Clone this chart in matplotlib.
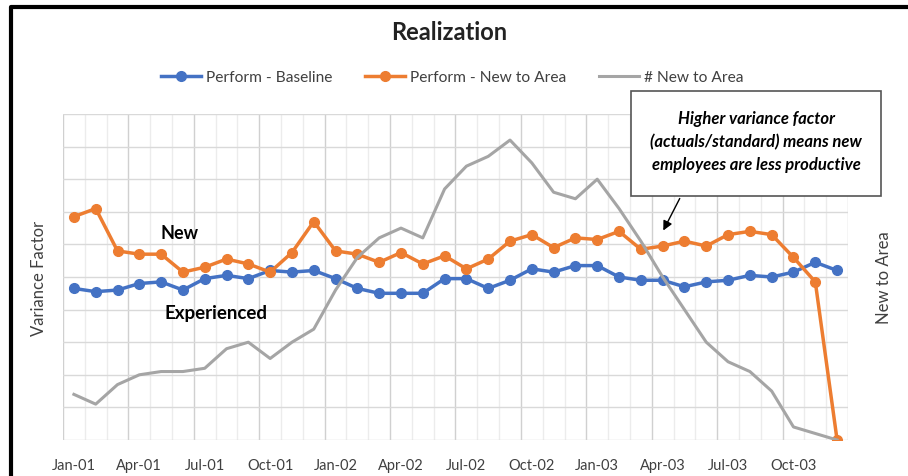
import numpy as np
import matplotlib
matplotlib.use("Agg")
import matplotlib.pyplot as plt
from matplotlib.patches import Rectangle
from matplotlib.lines import Line2D

plt.rcParams['font.family'] = ['Lato', 'DejaVu Sans']

# monthly data Jan-01 .. Dec-03
months = ['Jan-01', 'Feb-01', 'Mar-01', 'Apr-01', 'May-01', 'Jun-01', 'Jul-01', 'Aug-01', 'Sep-01',
          'Oct-01', 'Nov-01', 'Dec-01', 'Jan-02', 'Feb-02', 'Mar-02', 'Apr-02', 'May-02', 'Jun-02',
          'Jul-02', 'Aug-02', 'Sep-02', 'Oct-02', 'Nov-02', 'Dec-02', 'Jan-03', 'Feb-03', 'Mar-03',
          'Apr-03', 'May-03', 'Jun-03', 'Jul-03', 'Aug-03', 'Sep-03', 'Oct-03', 'Nov-03', 'Dec-03']

baseline = [0.93, 0.91, 0.92, 0.96, 0.97, 0.92, 0.99, 1.01, 0.99, 1.04, 1.03, 1.04,
            0.99, 0.93, 0.90, 0.90, 0.90, 0.99, 0.99, 0.93, 0.98, 1.05, 1.03, 1.07,
            1.07, 1.00, 0.98, 0.98, 0.94, 0.97, 0.98, 1.01, 1.00, 1.03, 1.09, 1.04]

new_area = [1.37, 1.42, 1.16, 1.14, 1.14, 1.03, 1.06, 1.11, 1.08, 1.03, 1.15, 1.34,
            1.16, 1.14, 1.09, 1.15, 1.08, 1.13, 1.05, 1.11, 1.22, 1.26, 1.18, 1.24,
            1.23, 1.28, 1.17, 1.19, 1.22, 1.19, 1.26, 1.28, 1.26, 1.12, 0.97, 0.00]

n_new = [14, 11, 17, 20, 21, 21, 22, 28, 30, 25, 30, 34,
         46, 56, 62, 65, 62, 77, 84, 87, 92, 85, 76, 74,
         80, 71, 61, 50, 40, 30, 24, 21, 15, 4, 2, 0]

blue = '#4472C4'
orange = '#ED7D31'
gray = '#A5A5A5'

W, H = 908, 477
fig = plt.figure(figsize=(W / 100, H / 100), dpi=100)

def fx(px):
    return px / W

def fy(py):
    return 1 - py / H

ax = fig.add_axes([fx(63), fy(441), fx(848) - fx(63), fy(115) - fy(441)])
x = np.arange(len(months))

ax.set_xlim(-0.5, len(months) - 0.5)
ax.set_ylim(0, 2.0)
ax.set_yticks(np.arange(0, 2.01, 0.2))
ax.set_yticklabels([])
ax.tick_params(axis='y', length=0)
ax.grid(axis='y', color='#d9d9d9', linewidth=1)

# month boundaries, quarters a bit darker
for b in np.arange(-0.5, len(months), 1):
    q = int(b + 0.5) % 3 == 0
    ax.axvline(b, color='#d0d0d0' if q else '#ececec', linewidth=1, zorder=0)

ax.set_xticks(x[::3])
ax.set_xticklabels(months[::3], fontsize=10.5, color='#404040')
ax.tick_params(axis='x', length=0, pad=13)
for s in ax.spines.values():
    s.set_visible(False)
ax.set_axisbelow(True)

ax.plot(x, baseline, color=blue, linewidth=2.5, marker='o', markersize=7,
        label='Perform - Baseline', zorder=3)
ax.plot(x, new_area, color=orange, linewidth=2.5, marker='o', markersize=7,
        label='Perform - New to Area', zorder=4)
ax.set_ylabel('Variance Factor', fontsize=12, color='#404040', labelpad=8)

ax2 = ax.twinx()
ax2.set_ylim(0, 100)
ax2.set_yticks([])
for s in ax2.spines.values():
    s.set_visible(False)
ax2.plot(x, n_new, color=gray, linewidth=2.2, label='# New to Area')
ax2.set_ylabel('New to Area', fontsize=12, color='#404040', labelpad=20)

fig.text(fx(449), fy(33), 'Realization', ha='center', va='center',
         fontsize=17, fontweight='bold', color='#222222')

handles = [Line2D([], [], color=blue, linewidth=2.5, marker='o', markersize=7),
           Line2D([], [], color=orange, linewidth=2.5, marker='o', markersize=7),
           Line2D([], [], color=gray, linewidth=2.2)]
fig.legend(handles, ['Perform - Baseline', 'Perform - New to Area', '# New to Area'],
           loc='center', bbox_to_anchor=(fx(452), fy(78)), ncol=3, frameon=False,
           fontsize=11.2, handlelength=2.6, columnspacing=2.1, handletextpad=0.3,
           labelcolor='#404040')

ax.text(4.85, 1.27, 'New', fontsize=13, fontweight='bold', ha='center', va='center')
ax.text(6.5, 0.78, 'Experienced', fontsize=13.5, fontweight='bold', ha='center', va='center')

# callout box
fig.patches.append(Rectangle((fx(631), fy(197)), fx(881) - fx(631), fy(92) - fy(197),
                             transform=fig.transFigure, facecolor='white',
                             edgecolor='#555555', linewidth=1.2, zorder=5))
fig.text(fx(756), fy(142),
         'Higher variance factor\n(actuals/standard) means new\nemployees are less productive',
         ha='center', va='center', fontsize=12, fontweight='bold', style='italic',
         linespacing=1.5, zorder=6)
fig.add_artist(plt.Annotation('', xy=(fx(662), fy(234)), xytext=(fx(681), fy(197)),
                              xycoords='figure fraction', textcoords='figure fraction',
                              arrowprops=dict(arrowstyle='-|>', color='black', lw=1,
                                              mutation_scale=14)))

# outer frame
fig.add_artist(Line2D([fx(11), fx(11), fx(912)], [fy(482), fy(8), fy(8)],
                      transform=fig.transFigure, color='black', linewidth=3))

fig.savefig('out.png', dpi=100)
